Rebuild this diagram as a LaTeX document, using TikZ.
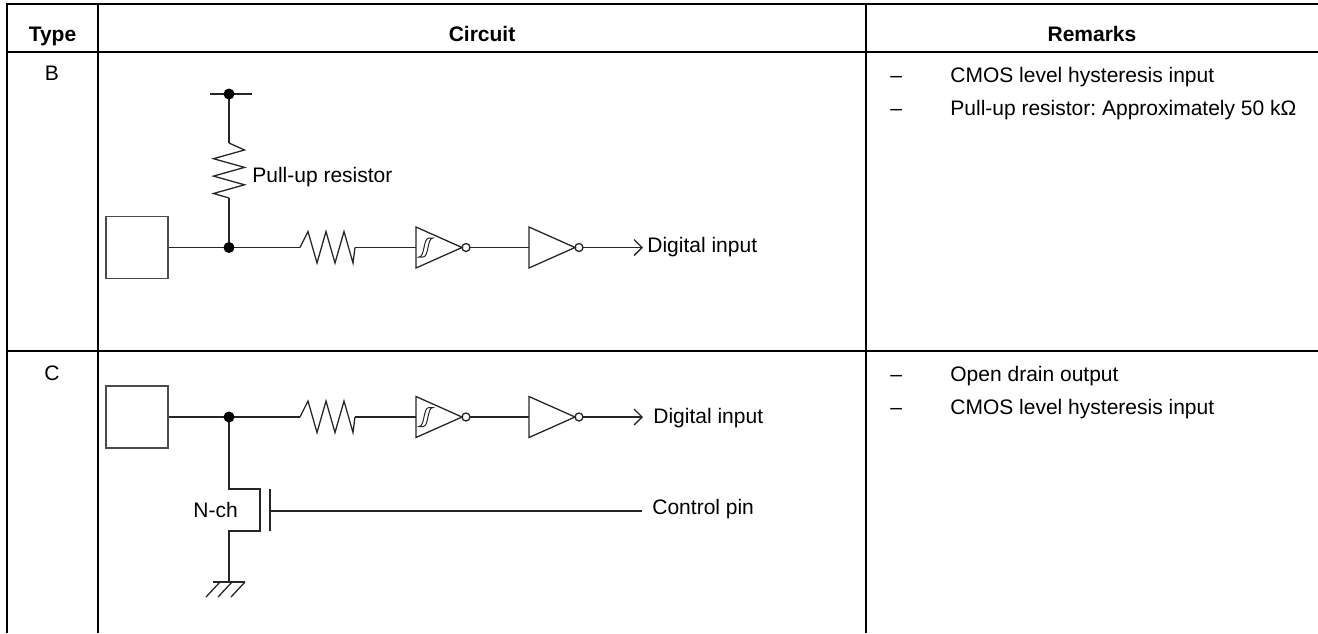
\documentclass[tikz,border=0pt]{standalone}
\usepackage{fontspec}
\setmainfont{Liberation Sans}
\usetikzlibrary{arrows.meta}
\frenchspacing

\begin{document}
\begin{tikzpicture}[x=0.5pt,y=-0.5pt,
  tbl/.style={line width=1.4pt},
  wire/.style={line width=0.65pt, black!85},
  pad/.style={draw=black!70, line width=0.6pt, minimum width=31pt, minimum height=31pt, inner sep=0pt},
  lbl/.style={inner sep=0pt, font=\fontsize{10.5}{12}\selectfont},
  hdr/.style={inner sep=0pt, font=\fontsize{10.5}{12}\selectfont\bfseries},
  outarrow/.style={wire, -{Straight Barb[length=4pt,width=8pt]}}]

\useasboundingbox (0,0) rectangle (1318,633);

% table
\draw[tbl] (7,633) -- (7,4) -- (1318,4);
\draw[tbl] (7,52) -- (1318,52);
\draw[tbl] (7,351) -- (1318,351);
\draw[tbl, line width=1.1pt] (98,4) -- (98,633);
\draw[tbl, line width=1.1pt] (866,4) -- (866,633);

\node[hdr, anchor=base] (htype) at (52.5,41) {Type};
\node[hdr, anchor=base] (hcirc) at (482,41) {Circuit};
\node[hdr, anchor=base] (hrem) at (1092,41) {Remarks};

\node[lbl, anchor=base] (typB) at (52,80) {B};
\node[lbl, anchor=base] (typC) at (52,380) {C};

% remarks
\node[lbl, anchor=base west] (dashB1) at (890,82) {--};
\node[lbl, anchor=base west] (dashB2) at (890,115) {--};
\node[lbl, anchor=base west] (remB1) at (950,82) {CMOS level hysteresis input};
\node[lbl, anchor=base west] (remB2) at (950,115) {Pull-up resistor: Approximately 50 kΩ};

\node[lbl, anchor=base west] (dashC1) at (890,381) {--};
\node[lbl, anchor=base west] (dashC2) at (890,414) {--};
\node[lbl, anchor=base west] (remC1) at (950,381) {Open drain output};
\node[lbl, anchor=base west] (remC2) at (950,414) {CMOS level hysteresis input};

% type B circuit
\node[pad] (padB) at (137,247.5) {};
\coordinate (jB) at (229,247.5);
\coordinate (vdd) at (229,94);
\coordinate (vddL) at (210,94);
\coordinate (vddR) at (252,94);
\coordinate (rpuT) at (229,143);
\coordinate (rpuB) at (229,198);
\coordinate (resB1) at (300,247.5);
\coordinate (resB2) at (355,247.5);
\coordinate (stB) at (416,247.5);
\coordinate (stBo) at (470,247.5);
\coordinate (ivB) at (529,247.5);
\coordinate (ivBo) at (583,247.5);
\coordinate (outB) at (643,247.5);

\draw[wire] (vddL) -- (vddR);
\draw[wire] (vdd) -- (rpuT);
\draw[wire] (rpuT) -- ++(15.5,7) -- ++(-31,8.7) -- ++(31,8.7) -- ++(-31,8.7)
  -- ++(31,8.7) -- ++(-31,8.7) -- (rpuB);
\draw[wire] (rpuB) -- (jB);
\draw[wire] (padB) -- (jB);
\draw[wire] (jB) -- (resB1);
\draw[wire] (resB1) -- ++(8,-16) -- ++(9,31.5) -- ++(9,-31.5) -- ++(9,31.5)
  -- ++(9,-31.5) -- ++(9,31.5) -- (resB2);
\draw[wire] (resB2) -- (stB);

\draw[wire] (stB) ++(0,-20.5) -- ++(46,20.5) -- ++(-46,20.5) -- cycle;
\draw[wire, line width=0.5pt] (stB) ++(3,9.5) .. controls +(6,0) and +(-6,0) .. ++(10,-19)
  -- ++(4,0) .. controls +(-6,0) and +(6,0) .. ++(-10,19) -- cycle;
\draw[wire] (stB) ++(50,0) circle[radius=4];
\draw[wire] (stBo) -- (ivB);
\draw[wire] (ivB) ++(0,-20.5) -- ++(46,20.5) -- ++(-46,20.5) -- cycle;
\draw[wire] (ivB) ++(50,0) circle[radius=4];
\draw[outarrow] (ivBo) -- (outB);

\fill[black] (vdd) circle[radius=5.5];
\fill[black] (jB) circle[radius=5.5];

\node[lbl, anchor=base west] (puB) at (252,182) {Pull-up resistor};
\node[lbl, anchor=base west] (dinB) at (647,252.5) {Digital input};

% type C circuit
\node[pad] (padC) at (137,417) {};
\coordinate (jC) at (229,417);
\coordinate (resC1) at (300,417);
\coordinate (resC2) at (355,417);
\coordinate (stC) at (416,417);
\coordinate (stCo) at (470,417);
\coordinate (ivC) at (529,417);
\coordinate (ivCo) at (583,417);
\coordinate (outC) at (643,417);

\draw[wire] (padC) -- (jC);
\draw[wire] (jC) -- (resC1);
\draw[wire] (resC1) -- ++(8,-16) -- ++(9,31.5) -- ++(9,-31.5) -- ++(9,31.5)
  -- ++(9,-31.5) -- ++(9,31.5) -- (resC2);
\draw[wire] (resC2) -- (stC);

\draw[wire] (stC) ++(0,-20.5) -- ++(46,20.5) -- ++(-46,20.5) -- cycle;
\draw[wire, line width=0.5pt] (stC) ++(3,9.5) .. controls +(6,0) and +(-6,0) .. ++(10,-19)
  -- ++(4,0) .. controls +(-6,0) and +(6,0) .. ++(-10,19) -- cycle;
\draw[wire] (stC) ++(50,0) circle[radius=4];
\draw[wire] (stCo) -- (ivC);
\draw[wire] (ivC) ++(0,-20.5) -- ++(46,20.5) -- ++(-46,20.5) -- cycle;
\draw[wire] (ivC) ++(50,0) circle[radius=4];
\draw[outarrow] (ivCo) -- (outC);

% N-ch transistor
\coordinate (drn) at (229,489);
\coordinate (drnC) at (260,489);
\coordinate (srcC) at (260,531);
\coordinate (src) at (229,531);
\coordinate (gnd) at (229,582);
\coordinate (gateT) at (270,489);
\coordinate (gateB) at (270,531);
\coordinate (gateM) at (270,511);
\coordinate (ctl) at (642,511);

\draw[wire] (jC) -- (drn) -- (drnC) -- (srcC) -- (src) -- (gnd);
\draw[wire] (gateT) -- (gateB);
\draw[wire] (gateM) -- (ctl);

\draw[wire] (gnd) ++(-16,0) -- ++(32,0);
\foreach \dx in {-9,3,16}
  \draw[wire] (gnd) ++(\dx,0) -- ++(-14,15);

\fill[black] (jC) circle[radius=5.5];

\node[lbl, anchor=base west] (dinC) at (653,423) {Digital input};
\node[lbl, anchor=base west] (ctlT) at (652,514) {Control pin};
\node[lbl, anchor=base west] (nch) at (193,517) {N-ch};

\end{tikzpicture}
\end{document}
